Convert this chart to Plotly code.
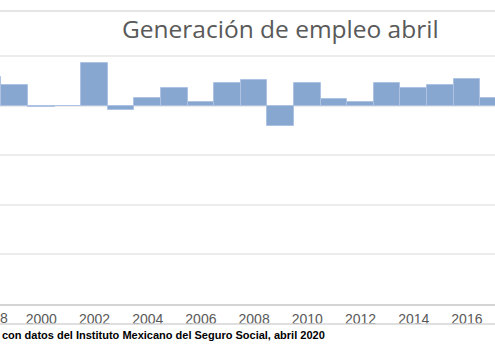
import plotly.graph_objects as go

years = list(range(1998, 2018))
values = [57700, 41500, -2500, 0, 86500, -9000, 16000, 35000, 6700, 45000,
          51000, -41000, 45000, 13300, 6700, 45000, 35500, 42000, 54000, 16000]
tick_years = [2000, 2002, 2004, 2006, 2008, 2010, 2012, 2014, 2016]
tick_text = [str(y) for y in tick_years]
edge_label = "8"  # visible tail of the cropped "1998" label

title_text = "Generación de empleo abril"
source_text = "con datos del Instituto Mexicano del Seguro Social, abril 2020"

W, H = 495, 351
T, B = 40, 47
ph = H - T - B
x0, x1 = 1998.447, 2017.056

tick_font = dict(family="Liberation Sans, Arial", size=14, color="#595959")

fig = go.Figure()
fig.add_trace(go.Bar(
    x=years, y=values,
    marker=dict(color="#87a6d0", line=dict(color="#aec3e3", width=1)),
    width=1.0,
))

fig.update_layout(
    width=W, height=H,
    margin=dict(l=0, r=0, t=T, b=B),
    paper_bgcolor="white", plot_bgcolor="white",
    showlegend=False,
    bargap=0,
    xaxis=dict(
        range=[x0, x1],
        tickvals=tick_years, ticktext=tick_text,
        tickfont=tick_font,
        ticks="outside", ticklen=1, tickcolor="rgba(0,0,0,0)",
        showgrid=False, zeroline=False,
        showline=True, linecolor="#d4d4d4", linewidth=2,
    ),
    yaxis=dict(
        range=[-400000, 132000],
        dtick=100000,
        showticklabels=False,
        showgrid=True, gridcolor="#ececec", gridwidth=1.5,
        zeroline=True, zerolinecolor="#ececec", zerolinewidth=1.5,
    ),
    annotations=[
        dict(text=title_text, x=280 / W, y=1 + (T - 28) / ph,
             xref="paper", yref="paper", xanchor="center", yanchor="middle",
             showarrow=False,
             font=dict(family="Open Sans", size=24.5, color="#595959")),
        dict(text="<b>" + source_text + "</b>", x=0, y=-(335 - (H - B)) / ph,
             xref="paper", yref="paper", xanchor="left", yanchor="middle",
             showarrow=False,
             font=dict(family="Liberation Sans, Arial", size=11, color="#000000")),
        dict(text=edge_label, x=0, y=-(318 - (H - B)) / ph,
             xref="paper", yref="paper", xanchor="left", yanchor="middle",
             xshift=-2,
             showarrow=False, font=tick_font),
    ],
    shapes=[
        dict(type="line", xref="paper", yref="paper", x0=0, x1=1,
             y0=1 + (T - 11) / ph, y1=1 + (T - 11) / ph,
             line=dict(color="#dcdcdc", width=1.5)),
        dict(type="line", xref="paper", yref="paper", x0=0, x1=1,
             y0=-(324 - (H - B)) / ph, y1=-(324 - (H - B)) / ph,
             line=dict(color="#d4d4d4", width=1.5)),
    ],
)

fig.write_html("out.html")
